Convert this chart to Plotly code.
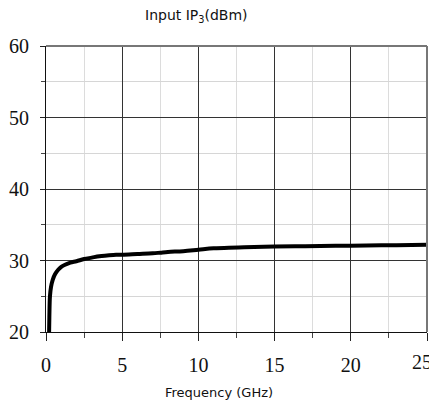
import plotly.graph_objects as go

freq = [0.2, 0.22, 0.26, 0.33, 0.44, 0.6, 0.8, 1.0, 1.25, 1.6, 2.0, 2.5, 3.0, 3.5, 4.0, 4.6,
        5.0, 6.0, 7.0, 7.5, 8.0, 9.0, 10.0, 11.0, 12.0, 13.0, 15.0, 17.0, 19.0, 21.0, 23.0, 25.0]
ip3 = [19.6, 22.0, 25.0, 26.3, 27.3, 28.1, 28.7, 29.1, 29.4, 29.7, 29.9, 30.2, 30.4, 30.6, 30.7, 30.8,
       30.8, 30.9, 31.0, 31.1, 31.2, 31.3, 31.5, 31.7, 31.8, 31.85, 31.95, 32.0, 32.05, 32.1, 32.15, 32.2]

x_ticks = [0, 5, 10, 15, 20, 25]
x_labels = ["0", "5", "10", "15", "20", "25"]
x_minor = [2.5, 7.5, 12.5, 17.5, 22.5]
y_ticks = [20, 30, 40, 50, 60]
y_minor = [25, 35, 45, 55]

fig = go.Figure()
fig.add_trace(go.Scatter(x=freq, y=ip3, mode="lines",
                         line=dict(color="black", width=4, shape="spline"),
                         showlegend=False))

tickfont = dict(family="Liberation Serif", size=20, color="#111")
# last x label is drawn as an annotation so that it is not clipped at the page edge
fig.update_xaxes(range=[0, 25], tickmode="array", tickvals=x_ticks,
                 ticktext=x_labels[:-1] + [""],
                 showgrid=True, gridcolor="#333", gridwidth=1, automargin=False,
                 ticklabeloverflow="allow", ticklabelstandoff=7,
                 ticks="outside", ticklen=8, tickcolor="#222", tickfont=tickfont,
                 showline=True, linecolor="#111", linewidth=1, zeroline=False,
                 minor=dict(tickmode="array", tickvals=x_minor, showgrid=True, gridcolor="#dcdcdc",
                            ticks="outside", ticklen=5, tickcolor="#444"))
fig.update_yaxes(range=[20, 60], tickmode="array", tickvals=y_ticks, ticktext=[str(v) for v in y_ticks],
                 showgrid=True, gridcolor="#333", gridwidth=1, automargin=False,
                 ticklabeloverflow="allow", ticklabelstandoff=7,
                 ticks="outside", ticklen=5, tickcolor="#222", tickfont=tickfont,
                 showline=True, linecolor="#111", linewidth=1, zeroline=False,
                 minor=dict(tickmode="array", tickvals=y_minor, showgrid=True, gridcolor="#d6d6d6",
                            ticks="outside", ticklen=4, tickcolor="#444"))

fig.add_annotation(text=x_labels[-1], xref="x", yref="paper", x=x_ticks[-1], y=0,
                   xanchor="right", yanchor="top", xshift=7, yshift=-17, showarrow=False,
                   font=tickfont)

fig.add_shape(type="line", xref="paper", yref="paper", x0=0, x1=1, y0=1, y1=1,
              line=dict(color="#777", width=2))
fig.add_shape(type="line", xref="paper", yref="paper", x0=1, x1=1, y0=0, y1=1,
              line=dict(color="#777", width=2))

fig.add_annotation(text="Input IP<sub>3</sub>(dBm)", xref="paper", yref="paper",
                   x=0.396, y=1, yshift=30, showarrow=False, xanchor="center", yanchor="middle",
                   font=dict(family="DejaVu Sans", size=14, color="#111"))
fig.add_annotation(text="Frequency (GHz)", xref="paper", yref="paper",
                   x=0.454, y=0, yshift=-60, showarrow=False, xanchor="center", yanchor="middle",
                   font=dict(family="DejaVu Sans", size=13, color="#111"))

fig.update_layout(width=429, height=396, margin=dict(l=38, r=10, t=38, b=72),
                  paper_bgcolor="white", plot_bgcolor="white")

fig.write_html("out.html")
